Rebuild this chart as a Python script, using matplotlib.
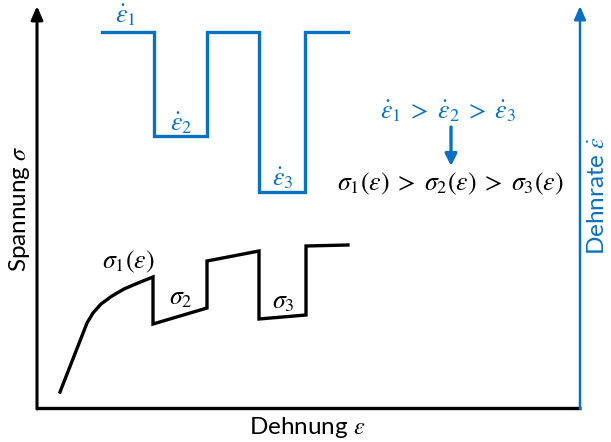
import matplotlib.pyplot as plt

plt.rcParams['mathtext.fontset'] = 'stix'
plt.rcParams['font.family'] = ['Lato', 'DejaVu Sans']

BLUE = '#0a70c0'

# Dehnrate (blau), Stufenverlauf
rate_x = [102, 154, 154, 207, 207, 259, 259, 305, 305, 348]
rate_y = [32, 32, 136, 136, 32, 32, 192, 192, 32, 32]

# Spannung (schwarz)
stress_x = [60, 87, 93, 101, 112, 124, 138, 153, 153, 207, 207, 259, 259, 306, 306, 348]
stress_y = [392, 323, 313, 304, 296, 289, 283, 277, 324, 308, 261, 251, 319, 315, 246, 245]

# Beschriftungen an den Kurven
rate_labels = [r'$\dot{\varepsilon}_1$', r'$\dot{\varepsilon}_2$', r'$\dot{\varepsilon}_3$']
rate_label_pos = [(126, 15), (181, 123), (283, 178)]
stress_labels = [r'$\sigma_1(\varepsilon)$', r'$\sigma_2$', r'$\sigma_3$']
stress_label_pos = [(128, 262), (181, 297), (283, 301)]

fig = plt.figure(figsize=(6.11, 4.42), dpi=100)
ax = fig.add_axes([0, 0, 1, 1])
ax.set_xlim(0, 611)
ax.set_ylim(442, 0)
ax.axis('off')

# Achsen mit Pfeilspitzen
arrow = dict(arrowstyle='-|>,head_length=0.8,head_width=0.35', lw=2.2, shrinkA=0, shrinkB=0)
ax.annotate('', xy=(37, 6), xytext=(37, 409), arrowprops=dict(arrow, color='black'))
ax.plot([37, 581], [408, 408], color='black', lw=2.4, solid_capstyle='butt')
ax.annotate('', xy=(580, 6), xytext=(580, 409), arrowprops=dict(arrow, color=BLUE, lw=1.8))

ax.plot(rate_x, rate_y, color=BLUE, lw=2.4, solid_joinstyle='miter')
ax.plot(stress_x, stress_y, color='black', lw=2.4, solid_joinstyle='miter')

for t, (x, y) in zip(rate_labels, rate_label_pos):
    ax.text(x, y, t, color=BLUE, fontsize=18.5, ha='center', va='center')
for t, (x, y) in zip(stress_labels, stress_label_pos):
    ax.text(x, y, t, color='black', fontsize=18.5, ha='center', va='center')

ax.text(448, 111, r'$\dot{\varepsilon}_1 \;>\; \dot{\varepsilon}_2 \;>\; \dot{\varepsilon}_3$',
        color=BLUE, fontsize=18.5, ha='center', va='center')
ax.annotate('', xy=(451, 166), xytext=(451, 127),
            arrowprops=dict(arrowstyle='-|>,head_length=0.7,head_width=0.35',
                            color=BLUE, lw=2.4, shrinkA=0, shrinkB=0))
ax.text(450, 184, r'$\sigma_1(\varepsilon) \;>\; \sigma_2(\varepsilon) \;>\; \sigma_3(\varepsilon)$',
        color='black', fontsize=18.5, ha='center', va='center')

# Achsentitel
ax.text(307, 427, r'Dehnung $\varepsilon$', fontsize=17.5, ha='center', va='center')
ax.text(20, 209, r'Spannung $\sigma$', fontsize=17.5, ha='center', va='center', rotation=90)
ax.text(598, 195, r'Dehnrate $\dot{\varepsilon}$', fontsize=17.5, ha='center', va='center',
        rotation=90, color=BLUE)

fig.savefig('out.png', dpi=100)
